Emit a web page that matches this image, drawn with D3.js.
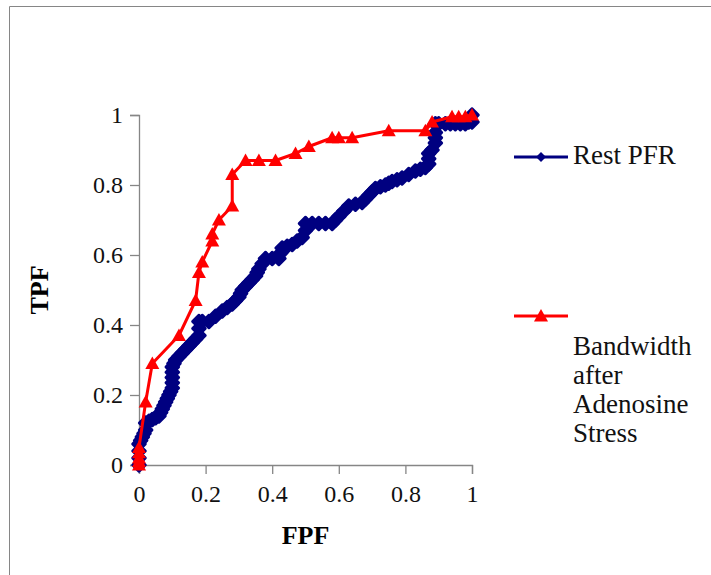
<!DOCTYPE html>
<html lang="en">
  <head>
    <meta charset="UTF-8" />
    <title>ROC: Rest PFR vs Bandwidth after Adenosine Stress</title>
    <script src="https://d3js.org/d3.v7.min.js"></script>
    <style>
      body {
        margin: 0;
        background: #fff;
      }
      svg text {
        font-family: "Liberation Serif", "Times New Roman", serif;
      }
    </style>
  </head>
  <body>
    <div id="chart"></div>
    <script>
      // tick values for both axes
      const ticks = [0, 0.2, 0.4, 0.6, 0.8, 1]

      // Rest PFR (FPF, TPF)
      const restFPF = [0, 0, 0, 0, 0.005, 0.01, 0.015, 0.02, 0.02, 0.03, 0.04, 0.05, 0.06, 0.065, 0.07, 0.075, 0.08, 0.085, 0.09, 0.095, 0.1, 0.1, 0.1, 0.1, 0.1, 0.105, 0.11, 0.12, 0.13, 0.14, 0.15, 0.16, 0.17, 0.18, 0.18, 0.18, 0.19, 0.21, 0.23, 0.25, 0.265, 0.28, 0.29, 0.3, 0.305, 0.31, 0.32, 0.33, 0.34, 0.35, 0.355, 0.36, 0.37, 0.38, 0.4, 0.42, 0.425, 0.43, 0.445, 0.46, 0.475, 0.49, 0.5, 0.5, 0.52, 0.54, 0.56, 0.58, 0.59, 0.6, 0.615, 0.63, 0.65, 0.67, 0.68, 0.69, 0.7, 0.71, 0.725, 0.74, 0.75, 0.76, 0.775, 0.79, 0.81, 0.83, 0.845, 0.86, 0.87, 0.87, 0.87, 0.88, 0.89, 0.89, 0.89, 0.89, 0.9, 0.92, 0.935, 0.95, 0.965, 0.98, 0.99, 1, 1]
      const restTPF = [0, 0.02, 0.04, 0.06, 0.07, 0.08, 0.09, 0.1, 0.12, 0.125, 0.13, 0.135, 0.14, 0.15, 0.16, 0.17, 0.18, 0.19, 0.2, 0.21, 0.22, 0.235, 0.25, 0.265, 0.28, 0.29, 0.3, 0.31, 0.32, 0.33, 0.34, 0.35, 0.36, 0.37, 0.39, 0.41, 0.41, 0.41, 0.425, 0.44, 0.45, 0.46, 0.47, 0.48, 0.49, 0.5, 0.51, 0.52, 0.53, 0.54, 0.55, 0.56, 0.575, 0.59, 0.59, 0.59, 0.605, 0.62, 0.625, 0.63, 0.64, 0.65, 0.67, 0.69, 0.69, 0.69, 0.69, 0.69, 0.7, 0.71, 0.725, 0.74, 0.745, 0.75, 0.76, 0.77, 0.78, 0.79, 0.795, 0.8, 0.805, 0.81, 0.815, 0.82, 0.83, 0.84, 0.845, 0.85, 0.86, 0.875, 0.89, 0.9, 0.92, 0.935, 0.95, 0.975, 0.975, 0.975, 0.975, 0.975, 0.975, 0.975, 0.98, 0.98, 1]

      // Bandwidth after Adenosine Stress (FPF, TPF)
      const bwFPF = [0, 0, 0, 0, 0, 0.02, 0.04, 0.12, 0.17, 0.18, 0.19, 0.22, 0.22, 0.24, 0.28, 0.28, 0.32, 0.36, 0.41, 0.47, 0.51, 0.58, 0.6, 0.64, 0.75, 0.86, 0.88, 0.94, 0.96, 0.98, 1]
      const bwTPF = [0, 0.01, 0.02, 0.035, 0.05, 0.18, 0.29, 0.37, 0.47, 0.55, 0.58, 0.64, 0.66, 0.7, 0.74, 0.83, 0.87, 0.87, 0.87, 0.89, 0.91, 0.935, 0.935, 0.935, 0.955, 0.955, 0.98, 0.995, 0.995, 0.995, 1]

      const seriesNames = ["Rest PFR", "Bandwidth after Adenosine Stress"]

      const W = 711,
        H = 575

      const svg = d3.select("#chart").append("svg").attr("width", W).attr("height", H)

      // chart frame (only top and left edges are in view)
      svg.append("line").attr("x1", 9.5).attr("x2", W).attr("y1", 6.5).attr("y2", 6.5).attr("stroke", "#868686")
      svg.append("line").attr("x1", 9.5).attr("x2", 9.5).attr("y1", 6.5).attr("y2", H).attr("stroke", "#868686")

      const x = d3.scaleLinear().domain([0, 1]).range([139, 472])
      const y = d3.scaleLinear().domain([0, 1]).range([465, 115])

      const xAxis = svg
        .append("g")
        .attr("transform", `translate(0,${y(0)})`)
        .call(d3.axisBottom(x).tickValues(ticks).tickFormat(d3.format("")).tickSize(9).tickPadding(11))
      const yAxis = svg
        .append("g")
        .attr("transform", `translate(${x(0)},0)`)
        .call(d3.axisLeft(y).tickValues(ticks).tickFormat(d3.format("")).tickSize(9).tickPadding(7))

      ;[xAxis, yAxis].forEach(g => {
        g.selectAll(".domain").attr("stroke", "#868686").attr("stroke-width", 1.3)
        g.selectAll(".tick line").attr("stroke", "#868686").attr("stroke-width", 1.3)
        g.selectAll(".tick text")
          .attr("fill", "#111")
          .style("font-size", "24px")
      })

      svg
        .append("text")
        .attr("x", (x(0) + x(1)) / 2)
        .attr("y", 544)
        .attr("text-anchor", "middle")
        .style("font-size", "26px")
        .style("font-weight", "bold")
        .text("FPF")

      svg
        .append("text")
        .attr("transform", `translate(48,${(y(0) + y(1)) / 2}) rotate(-90)`)
        .attr("text-anchor", "middle")
        .style("font-size", "26px")
        .style("font-weight", "bold")
        .text("TPF")

      const diamond = "M0,-6.5L6.5,0L0,6.5L-6.5,0Z"
      const triangle = "M0,-7L7,5.5L-7,5.5Z"

      const line = d3
        .line()
        .x(d => x(d[0]))
        .y(d => y(d[1]))

      const restData = d3.zip(restFPF, restTPF)
      const bwData = d3.zip(bwFPF, bwTPF)

      function drawSeries(data, color, marker, outline) {
        svg
          .append("path")
          .datum(data)
          .attr("fill", "none")
          .attr("stroke", color)
          .attr("stroke-width", 3)
          .attr("stroke-linejoin", "round")
          .attr("d", line)
        svg
          .append("g")
          .selectAll("path")
          .data(data)
          .join("path")
          .attr("transform", d => `translate(${x(d[0])},${y(d[1])})`)
          .attr("d", marker)
          .attr("fill", color)
          .attr("stroke", color)
          .attr("stroke-width", outline)
          .attr("stroke-linejoin", "round")
      }

      drawSeries(restData, "#000080", diamond, 2.5)
      drawSeries(bwData, "#ff0000", triangle, 0)

      // legend
      const legend = svg.append("g")
      legend.append("line").attr("x1", 514).attr("x2", 568).attr("y1", 157).attr("y2", 157).attr("stroke", "#000080").attr("stroke-width", 3)
      legend.append("path").attr("transform", "translate(541,157)").attr("d", "M0,-5L5,0L0,5L-5,0Z").attr("fill", "#000080")
      legend
        .append("text")
        .attr("x", 573)
        .attr("y", 164)
        .style("font-size", "27px")
        .attr("fill", "#111")
        .text(seriesNames[0])

      legend.append("line").attr("x1", 514).attr("x2", 568).attr("y1", 316).attr("y2", 316).attr("stroke", "#ff0000").attr("stroke-width", 3)
      legend.append("path").attr("transform", "translate(541,316)").attr("d", triangle).attr("fill", "#ff0000")
      const words = ["Bandwidth", "after", "Adenosine", "Stress"]
      legend
        .append("text")
        .style("font-size", "27px")
        .attr("fill", "#111")
        .selectAll("tspan")
        .data(words)
        .join("tspan")
        .attr("x", 573)
        .attr("y", (d, i) => 355 + i * 29)
        .text(d => d)
    </script>
  </body>
</html>
